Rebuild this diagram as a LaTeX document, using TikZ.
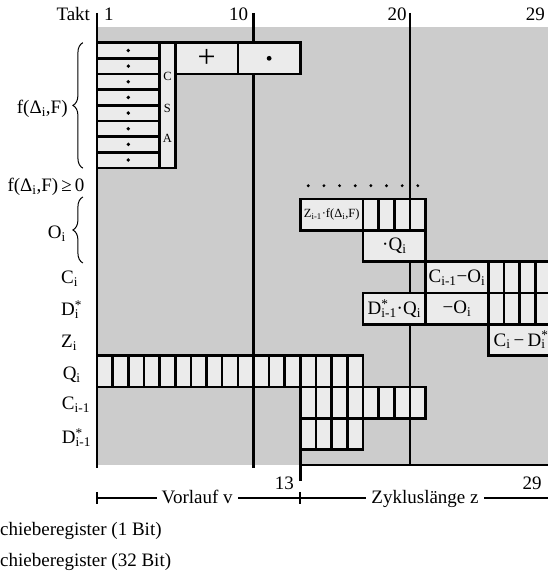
\documentclass[tikz,border=0pt]{standalone}
\usepackage{fontspec}
\setmainfont{Liberation Serif}
\usetikzlibrary{decorations.pathreplacing}
\definecolor{bggray}{HTML}{CCCCCC}
\definecolor{boxfill}{HTML}{EBEBEB}
\newcommand\mysbsp[2]{\rlap{\textsuperscript{#2}}\textsubscript{#1}}
\begin{document}
\begin{tikzpicture}[x=15.65pt,y=-15.65pt,
  regbox/.style={draw=black,line width=2.6pt,fill=boxfill},
  mainline/.style={line width=2.5pt},
  big/.style={font=\fontsize{19}{21}\selectfont,inner sep=0pt},
  small/.style={font=\fontsize{12.5}{14}\selectfont,inner sep=0pt},
  brc/.style={decorate,decoration={brace,amplitude=10pt},line width=1pt},
  dimtxt/.style={font=\fontsize{19}{21}\selectfont,fill=white,inner xsep=5pt,inner ysep=2pt},
  regdot/.style={fill=black,inner sep=0pt,minimum size=3.8pt,circle},
  dimline/.style={line width=2pt}
]
\useasboundingbox (-6.198,-1.725) rectangle (28.818,35.08);
\clip (-6.198,-1.725) rectangle (28.818,35.08);
% background
\fill[bggray] (0,0) rectangle (30,28);
% main time lines
\coordinate (t1top) at (0,-0.91);   \coordinate (t1bot) at (0,28.2);
\coordinate (t10top) at (10,-0.91); \coordinate (t10bot) at (10,28.15);
\coordinate (t20top) at (20,-0.91); \coordinate (t20bot) at (20,28);
\coordinate (t29top) at (29,-0.91); \coordinate (t29bot) at (29,28);
\coordinate (t13top) at (13,23);    \coordinate (t13bot) at (13,29);
\coordinate (hl) at (13,28);        \coordinate (hr) at (30,28);
\draw[mainline] (t1top) -- (t1bot);
\draw[mainline] (t10top) -- (t10bot);
\draw[mainline] (t20top) -- (t20bot);
\draw[mainline] (t29top) -- (t29bot);
\draw[mainline] (t13top) -- (t13bot);
\draw[mainline] (hl) -- (hr);
% f(Delta,F) registers
\foreach \r in {1,...,8} {
  \draw[regbox] (0,\r) rectangle (4,\r+1);
  \node[regdot] (fdot\r) at (2,\r+0.5) {};
}
\draw[regbox] (4,1) rectangle (5,9);
\node[small] (csaC) at (4.5,3.13) {C};
\node[small] (csaS) at (4.5,5.18) {S};
\node[small] (csaA) at (4.5,7.10) {A};
\draw[regbox] (5,1) rectangle (9,3);
\node[font=\fontsize{32}{32}\selectfont,inner sep=0pt] (plus) at (7,2) {+};
\draw[regbox] (9,1) rectangle (13,3);
\node[regdot,minimum size=4.8pt] (mul) at (11,2) {};
% dotted row
\foreach \c in {13,...,20} \node[regdot,minimum size=3.2pt] (d\c) at (\c+0.5,10.14) {};
% Z row
\draw[regbox] (13,11) rectangle (17,13);
\node[small] (zf) at (15,12) {Z\textsubscript{i-1}·f(Δ\textsubscript{i},F)};
\foreach \c in {17,...,20} \draw[regbox] (\c,11) rectangle +(1,2);
\draw[regbox] (17,13) rectangle (21,15);
\node[big] (mq) at (19,14) {·Q\textsubscript{i}};
\draw[regbox] (21,15) rectangle (25,17);
\node[big] (co) at (23,16) {C\textsubscript{i-1}−O\textsubscript{i}};
\foreach \c in {25,...,28} \draw[regbox] (\c,15) rectangle +(1,2);
\draw[regbox] (17,17) rectangle (21,19);
\node[big] (dq) at (19,18) {D\mysbsp{i-1}{*}·Q\textsubscript{i}};
\draw[regbox] (21,17) rectangle (25,19);
\node[big] (mo) at (23,18) {−O\textsubscript{i}};
\foreach \c in {25,...,28} \draw[regbox] (\c,17) rectangle +(1,2);
\draw[regbox] (25,19) rectangle (29,21);
\node[big] (cd) at (27,20) {C\textsubscript{i}\,−\,D\mysbsp{i}{*}};
% Q row
\foreach \c in {0,...,16} \draw[regbox] (\c,21) rectangle +(1,2);
\foreach \c in {13,...,20} \draw[regbox] (\c,23) rectangle +(1,2);
\foreach \c in {13,...,16} \draw[regbox] (\c,25) rectangle +(1,2);
% top labels
\node[big,anchor=base west] (takt) at (-2.6,-0.40) {Takt};
\node[big,anchor=base west] (n1) at (0.45,-0.40) {1};
\node[big,anchor=base east] (n10) at (9.67,-0.40) {10};
\node[big,anchor=base east] (n20) at (19.8,-0.40) {20};
\node[big,anchor=base east] (n29) at (28.63,-0.40) {29};
% left labels
\node[big,anchor=base west] (lf) at (-5.13,5.52) {f(Δ\textsubscript{i},F)};
\draw[brc] (-0.9,9.02) -- (-0.9,1.0);
\node[big,anchor=base west] (lfge) at (-5.73,10.52) {f(Δ\textsubscript{i},F)\,≥\,0};
\draw[brc] (-0.9,15.08) -- (-0.9,10.86);
\node[big,anchor=base west] (lo) at (-3.15,13.5) {O\textsubscript{i}};
\node[big,anchor=base west] (lc) at (-2.3,16.38) {C\textsubscript{i}};
\node[big,anchor=base west] (ld) at (-2.3,18.45) {D\mysbsp{i}{*}};
\node[big,anchor=base west] (lz) at (-2.3,20.47) {Z\textsubscript{i}};
\node[big,anchor=base west] (lq) at (-2.2,22.51) {Q\textsubscript{i}};
\node[big,anchor=base west] (lc1) at (-2.25,24.47) {C\textsubscript{i-1}};
\node[big,anchor=base west] (ld1) at (-2.25,26.6) {D\mysbsp{i-1}{*}};
% bottom labels
\node[big,anchor=base east] (b13) at (12.59,29.55) {13};
\node[big,anchor=base east] (b29) at (28.42,29.55) {29};
\coordinate (dl) at (0,30.08); \coordinate (dr) at (30,30.08);
\draw[dimline] (dl) -- (dr);
\draw[dimline] (0,29.7) -- (0,30.45);
\draw[dimline] (13,29.7) -- (13,30.45);
\node[dimtxt,anchor=base] (vl) at (6.4,30.43) {Vorlauf v};
\node[dimtxt,anchor=base] (zl) at (20.96,30.43) {Zykluslänge z};
\node[big,anchor=base west] (leg1) at (-6.2,32.52) {chieberegister (1 Bit)};
\node[big,anchor=base west] (leg2) at (-6.2,34.49) {chieberegister (32 Bit)};
\end{tikzpicture}
\end{document}
